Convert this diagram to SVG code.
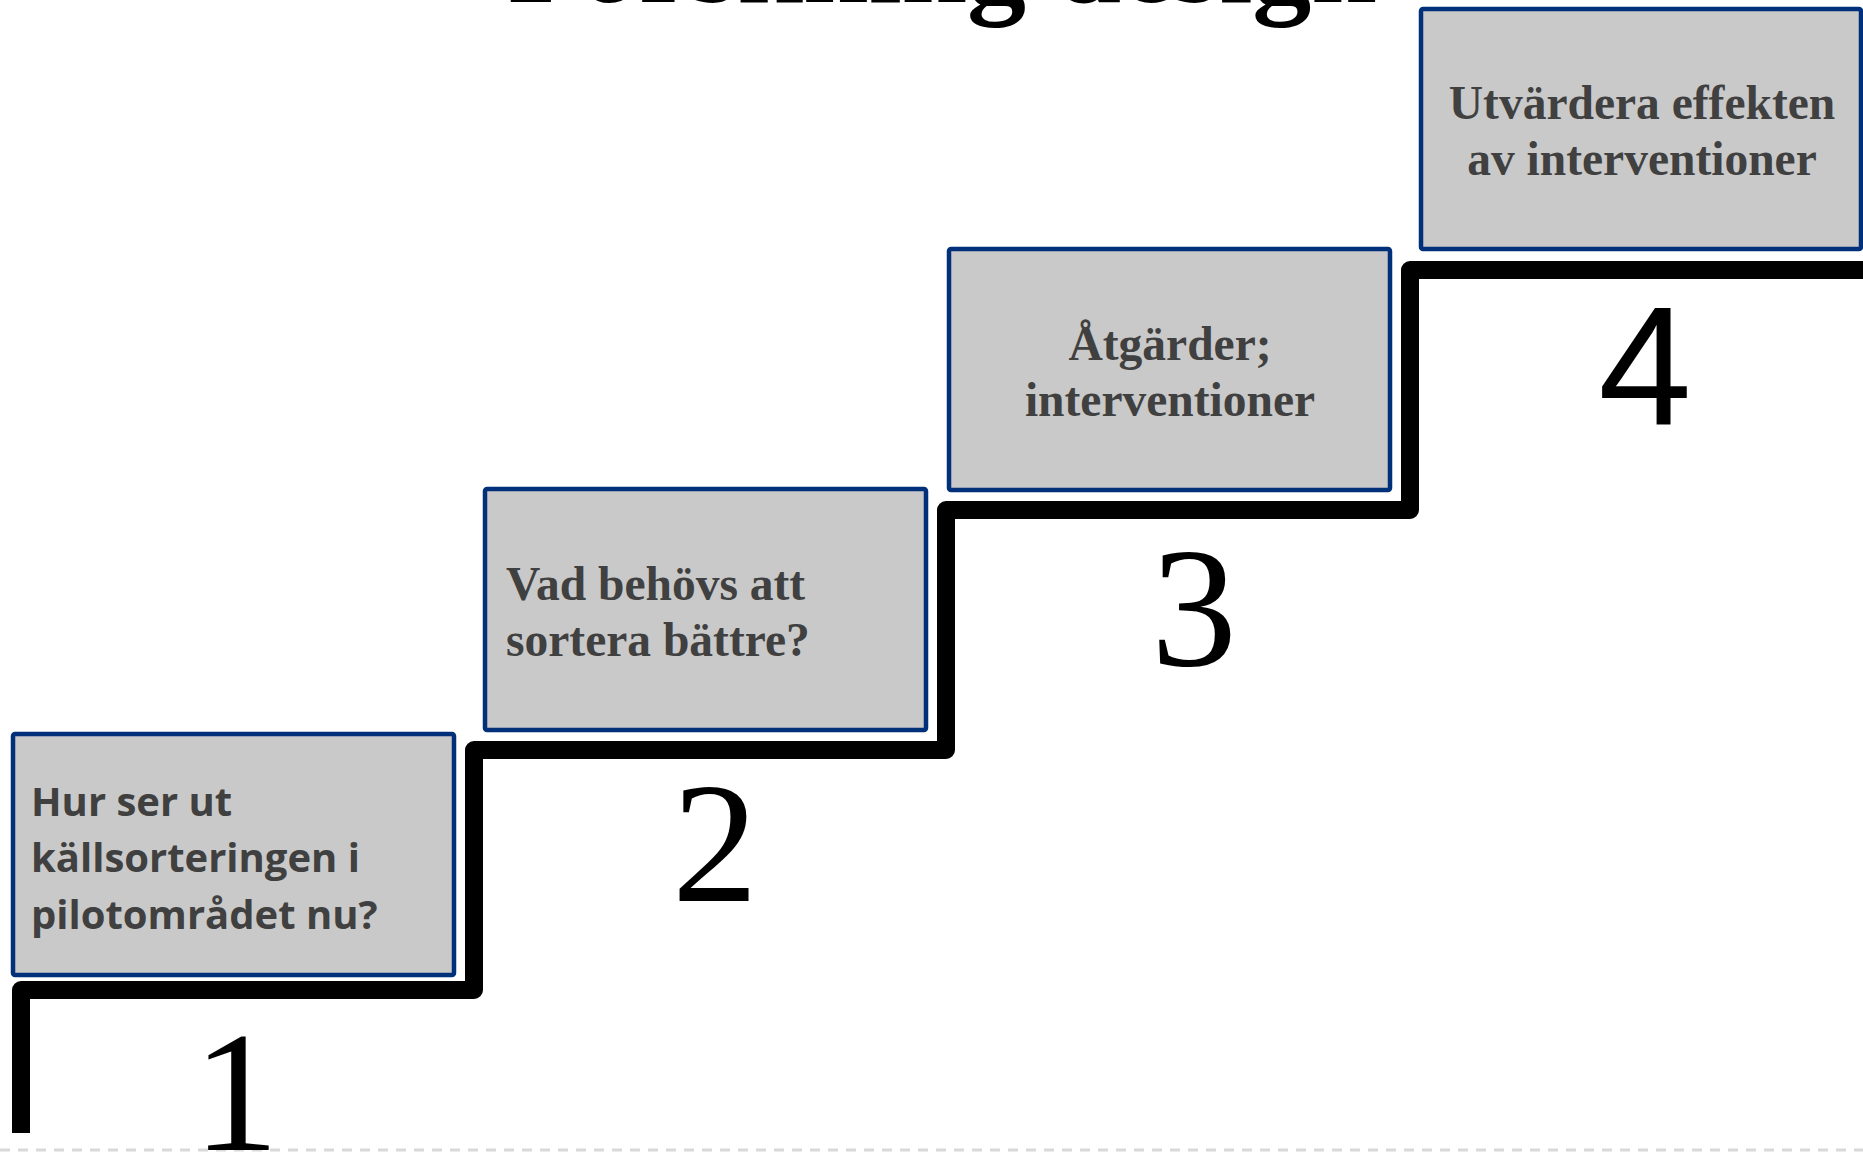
<svg xmlns="http://www.w3.org/2000/svg" width="1863" height="1154" viewBox="0 0 1863 1154">
<style>
.box{fill:#c9c9c9;stroke:#00307a;stroke-width:4.5}
.sans{font-family:"Open Sans","Liberation Sans",sans-serif;font-weight:bold;font-size:40px;fill:#404040}
.serif{font-family:"Liberation Serif","Times New Roman",serif;font-weight:bold;font-size:47.5px;fill:#404040}
.num{font-family:"Liberation Serif","Times New Roman",serif;font-size:172px;fill:#000;text-anchor:middle}
.num4{font-family:"Liberation Sans",Arial,sans-serif;font-size:168px;fill:#000;text-anchor:middle}
.stair{fill:none;stroke:#000;stroke-width:18;stroke-linejoin:round;stroke-linecap:butt}
</style>
<rect width="1863" height="1154" fill="#fff"/>
<text x="508" y="2" font-family="Liberation Serif, Times New Roman, serif" font-weight="bold" font-size="118" fill="#000">Forskning design</text>
<line x1="0" y1="1150" x2="1863" y2="1150" stroke="#d9d9d9" stroke-width="3" stroke-dasharray="10 8"/>
<g id="connectors">
<path class="stair" d="M21,1133 V990 H474 V750 H946 V510 H1410 V270 H1870"/>
</g>
<g id="step1">
<rect class="box" x="13" y="734" width="441" height="241" rx="2"/>
<text class="sans" x="31" y="816">Hur ser ut</text>
<text class="sans" x="31" y="872">källsorteringen i</text>
<text class="sans" x="31" y="929">pilotområdet nu?</text>
<text class="num" x="236" y="1150">1</text>
</g>
<g id="step2">
<rect class="box" x="485" y="489" width="441" height="241" rx="2"/>
<text class="serif" x="506" y="600">Vad behövs att</text>
<text class="serif" x="506" y="656">sortera bättre?</text>
<text class="num" x="715" y="901">2</text>
</g>
<g id="step3">
<rect class="box" x="949" y="249" width="441" height="241" rx="2"/>
<text class="serif" x="1170" y="360" text-anchor="middle">Åtgärder;</text>
<text class="serif" x="1170" y="416" text-anchor="middle">interventioner</text>
<text class="num" x="1194" y="665">3</text>
</g>
<g id="step4">
<rect class="box" x="1421" y="9" width="440" height="240" rx="2"/>
<text class="serif" x="1642" y="119" text-anchor="middle">Utvärdera effekten</text>
<text class="serif" x="1642" y="175" text-anchor="middle">av interventioner</text>
<text class="num4" x="1645" y="424">4</text>
</g>
</svg>
